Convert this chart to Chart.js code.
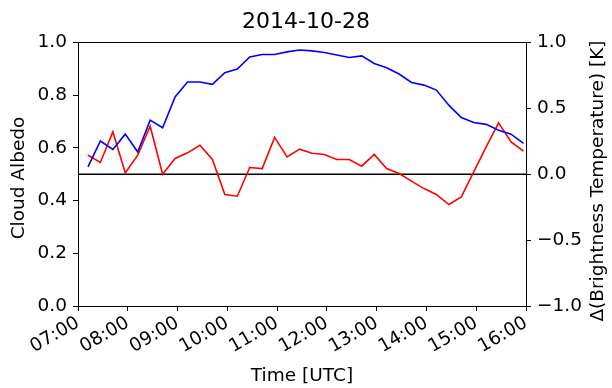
<!DOCTYPE html>
<html>
<head>
<meta charset="utf-8">
<script src="https://cdn.jsdelivr.net/npm/chart.js@4.4.1/dist/chart.umd.min.js"></script>
<style>
  html, body { margin: 0; padding: 0; background: #fff; }
</style>
</head>
<body>
<canvas id="albedo-chart" width="612" height="388"></canvas>
<script>
// scan times (UTC)
const times = ['07:12','07:27','07:42','07:57','08:12','08:27','08:42','08:57','09:12','09:27','09:42','09:57',
               '10:12','10:27','10:42','10:57','11:12','11:27','11:42','11:57','12:12','12:27','12:42','12:57',
               '13:12','13:27','13:42','13:57','14:12','14:27','14:42','14:57','15:12','15:27','15:42','15:57'];

// cloud albedo (left axis)
const albedo = [0.528,0.626,0.594,0.652,0.584,0.705,0.676,0.793,0.850,0.850,0.841,0.885,
                0.899,0.945,0.954,0.954,0.964,0.971,0.968,0.962,0.952,0.943,0.949,0.920,
                0.904,0.880,0.848,0.838,0.819,0.762,0.715,0.696,0.689,0.667,0.652,0.617];

// delta brightness temperature [K] (right axis)
const dBT = [0.144,0.089,0.321,0.010,0.144,0.364,0.000,0.119,0.162,0.220,0.112,-0.154,
             -0.167,0.051,0.043,0.279,0.131,0.190,0.159,0.150,0.112,0.112,0.061,0.150,
             0.043,0.005,-0.053,-0.109,-0.154,-0.230,-0.172,0.017,0.207,0.390,0.245,0.175];

// zero reference line on the right axis
const zeroX = [7, 16];
const zeroY = [0, 0];

const hourTicks = ['07:00','08:00','09:00','10:00','11:00','12:00','13:00','14:00','15:00','16:00'];
const leftTicks = [0, 0.2, 0.4, 0.6, 0.8, 1.0];
const rightTicks = [-1, -0.5, 0, 0.5, 1];

const FONT = 'DejaVu Sans';
const TICK_SIZE = 18.5;

function toHours(t) {
    const p = t.split(':');
    return Number(p[0]) + Number(p[1]) / 60;
}

const fmtNum = v => (v < 0 ? '\u2212' : '') + Math.abs(v).toFixed(1);

// black box around the plot + axis titles (matplotlib style)
const framePlugin = {
    id: 'frame',
    afterDraw(chart) {
        const {ctx, chartArea} = chart;
        const midX = (chartArea.left + chartArea.right) / 2;
        ctx.save();
        ctx.strokeStyle = '#000';
        ctx.lineWidth = 1;
        ctx.strokeRect(Math.round(chartArea.left) + 0.5, Math.round(chartArea.top) + 0.5,
                       Math.round(chartArea.right - chartArea.left), Math.round(chartArea.bottom - chartArea.top));
        ctx.fillStyle = '#000';
        ctx.font = TICK_SIZE + 'px "' + FONT + '"';
        ctx.textAlign = 'center';
        ctx.textBaseline = 'middle';
        ctx.fillText('Time [UTC]', midX, 376);

        ctx.save();
        ctx.translate(19.5, 178);
        ctx.rotate(-Math.PI / 2);
        ctx.fillText('Cloud Albedo', 0, 0);
        ctx.restore();

        ctx.translate(598, 181);
        ctx.rotate(-Math.PI / 2);
        ctx.fillText('\u0394(Brightness Temperature) [K]', 0, 0);
        ctx.restore();
    }
};

const axisGrid = {drawOnChartArea: false, drawTicks: true, tickLength: 5, color: '#000'};

new Chart(document.getElementById('albedo-chart'), {
    type: 'line',
    data: {
        datasets: [
            {
                data: times.map((t, i) => ({x: toHours(t), y: albedo[i]})),
                borderColor: '#0000ff', borderWidth: 1.6, pointRadius: 0, yAxisID: 'y', tension: 0
            },
            {
                data: times.map((t, i) => ({x: toHours(t), y: dBT[i]})),
                borderColor: '#ff0000', borderWidth: 1.6, pointRadius: 0, yAxisID: 'y2', tension: 0
            },
            {
                data: zeroX.map((x, i) => ({x: x, y: zeroY[i]})),
                borderColor: '#000', borderWidth: 1.6, pointRadius: 0, yAxisID: 'y2'
            }
        ]
    },
    options: {
        responsive: false,
        animation: false,
        layout: {padding: 0},
        plugins: {
            legend: {display: false},
            tooltip: {enabled: false},
            title: {
                display: true, text: '2014-10-28', color: '#000',
                font: {family: FONT, size: 22, weight: 'normal'},
                padding: {top: 9, bottom: 7}
            }
        },
        scales: {
            x: {
                type: 'linear', min: 7, max: 16,
                afterBuildTicks: s => { s.ticks = hourTicks.map((_, i) => ({value: 7 + i})); },
                afterFit: s => { s.height = 82; },
                grid: axisGrid,
                border: {display: false},
                ticks: {
                    color: '#000', font: {family: FONT, size: TICK_SIZE}, padding: 1,
                    maxRotation: 30, minRotation: 30, autoSkip: false,
                    callback: v => hourTicks[v - 7]
                }
            },
            y: {
                position: 'left', min: 0, max: 1,
                afterBuildTicks: s => { s.ticks = leftTicks.map(v => ({value: v})); },
                afterFit: s => { s.width = 78; },
                grid: axisGrid,
                border: {display: false},
                ticks: {color: '#000', font: {family: FONT, size: TICK_SIZE}, padding: 6, callback: fmtNum}
            },
            y2: {
                position: 'right', min: -1, max: 1,
                afterBuildTicks: s => { s.ticks = rightTicks.map(v => ({value: v})); },
                afterFit: s => { s.width = 86; },
                grid: axisGrid,
                border: {display: false},
                ticks: {color: '#000', font: {family: FONT, size: TICK_SIZE}, padding: 6, callback: fmtNum}
            }
        }
    },
    plugins: [framePlugin]
});
</script>
</body>
</html>
